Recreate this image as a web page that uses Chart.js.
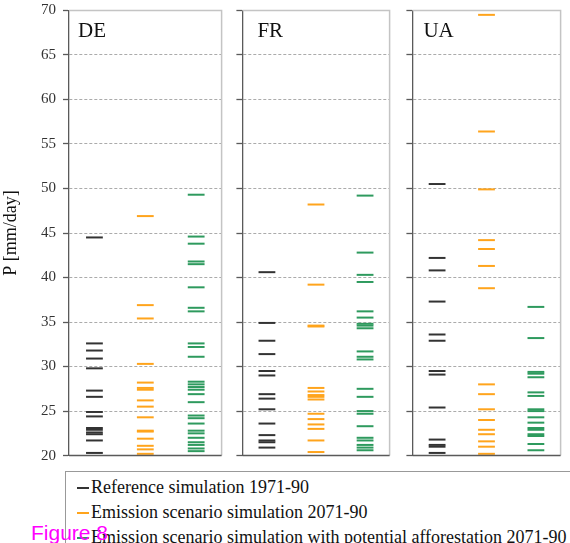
<!DOCTYPE html>
<html>
<head>
<meta charset="utf-8">
<script src="https://cdn.jsdelivr.net/npm/chart.js@4.4.1/dist/chart.umd.min.js"></script>
<style>
  html, body { margin: 0; padding: 0; background: #fff; }
  body { width: 570px; height: 543px; position: relative; overflow: hidden; }
  .panel { position: absolute; top: 0; height: 466px; }
  #legend {
    position: absolute; left: 65px; top: 471px; width: 540px; height: 90px;
    border: 1.5px solid #999; box-sizing: border-box;
    font-family: "Liberation Serif", "DejaVu Serif", serif; font-size: 18px; color: #111;
  }
  .row { position: absolute; left: 11px; height: 20px; line-height: 20px; white-space: nowrap; }
  .mark { display: inline-block; width: 12px; height: 2px; vertical-align: middle; margin-right: 2px; position: relative; top: -1px; }
  #fig {
    position: absolute; left: 31px; top: 521px;
    font-family: "Liberation Sans", Arial, sans-serif; font-size: 21px; color: #ff00ff;
  }
</style>
</head>
<body>
<canvas id="cDE" class="panel" style="left:0px;width:232px"></canvas>
<canvas id="cFR" class="panel" style="left:232px;width:168px"></canvas>
<canvas id="cUA" class="panel" style="left:402px;width:169px"></canvas>

<div id="legend">
  <div class="row" style="top:5px"><span class="mark" style="background:#333"></span>Reference simulation 1971-90</div>
  <div class="row" style="top:30px"><span class="mark" style="background:#ffa41c"></span>Emission scenario simulation 2071-90</div>
  <div class="row" style="top:55px"><span class="mark" style="background:#2e9a5e"></span>Emission scenario simulation with potential afforestation 2071-90</div>
</div>
<div id="fig">Figure 8</div>

<script>
// ---- data (P in mm/day, one value per dash) ----
const seriesNames = ["Reference simulation 1971-90", "Emission scenario simulation 2071-90",
    "Emission scenario simulation with potential afforestation 2071-90"];
const seriesColors = ["#333333", "#ffa41c", "#2e9a5e"];
const yTicks = [20, 25, 30, 35, 40, 45, 50, 55, 60, 65, 70];

const deRef = [44.5, 32.6, 31.8, 30.9, 29.8, 27.3, 26.6, 24.9, 24.4, 23.1, 22.9, 22.6, 22.4, 21.7, 20.3];
const deEmis = [46.9, 36.9, 35.4, 30.3, 28.2, 27.6, 27.4, 26.2, 25.5, 24.3, 22.8, 22.7, 21.9, 21.1, 20.7, 20.2];
const deAffor = [49.3, 44.6, 43.8, 41.8, 41.5, 38.9, 36.6, 36.2, 32.6, 32.2, 31.1, 28.3, 28.0, 27.7, 27.4,
    26.9, 26.0, 24.5, 24.2, 23.6, 22.8, 22.5, 22.0, 21.5, 21.2, 20.8, 20.5];

const frRef = [40.6, 34.9, 32.9, 31.4, 29.5, 29.0, 26.9, 26.4, 25.2, 23.6, 22.3, 21.7, 21.5, 20.9];
const frEmis = [48.2, 39.2, 34.6, 34.5, 27.6, 27.2, 26.8, 26.6, 26.3, 24.7, 24.1, 23.5, 23.0, 21.7, 20.4];
const frAffor = [49.2, 42.8, 40.3, 39.5, 36.2, 35.5, 34.8, 34.6, 34.3, 31.7, 31.1, 30.8, 27.5, 26.6,
    25.0, 24.7, 23.3, 22.0, 21.7, 21.2, 20.9, 20.6];

const uaRef = [50.5, 42.2, 40.8, 37.3, 33.6, 32.9, 29.5, 29.1, 25.4, 21.8, 21.2, 21.0, 20.3];
const uaEmis = [69.5, 56.4, 49.9, 44.2, 43.2, 41.3, 38.8, 28.0, 26.9, 25.2, 24.0, 22.9, 22.4, 21.6, 21.0, 20.2];
const uaAffor = [36.7, 33.2, 29.4, 29.2, 28.8, 27.1, 26.7, 25.2, 25.0, 24.3, 23.7, 23.1, 22.9, 22.4, 22.2, 21.3, 20.6];

const serif = "'Liberation Serif', 'DejaVu Serif', serif";

// frame: light grey top/right, dark bottom, plus the panel name
const framePlugin = {
    id: "frame",
    afterDatasetsDraw(chart, args, opts) {
        const { ctx, chartArea: a } = chart;
        ctx.save();
        ctx.lineWidth = 1.5;
        ctx.strokeStyle = "#c4c4c4";
        ctx.beginPath();
        ctx.moveTo(a.left, a.top);
        ctx.lineTo(a.right, a.top);
        ctx.lineTo(a.right, a.bottom);
        ctx.stroke();
        ctx.strokeStyle = "#5a5a5a";
        ctx.beginPath();
        ctx.moveTo(a.left, a.bottom);
        ctx.lineTo(a.right, a.bottom);
        ctx.stroke();
        ctx.fillStyle = "#111";
        ctx.font = "21px " + serif;
        ctx.textBaseline = "alphabetic";
        ctx.fillText(opts.label, a.left + opts.dx, a.top + 27);
        ctx.restore();
    }
};

function makePanel(id, label, dx, ref, emis, affor, first) {
    const lists = [ref, emis, affor];
    const datasets = lists.map((vals, i) => ({
        label: seriesNames[i],
        data: vals.map(v => ({ x: i + 1, y: v })),
        pointStyle: "line",
        radius: 8.4,
        hoverRadius: 8.4,
        borderWidth: 2,
        borderColor: seriesColors[i],
        backgroundColor: seriesColors[i],
        clip: false
    }));

    new Chart(document.getElementById(id), {
        type: "scatter",
        data: { datasets },
        plugins: [framePlugin],
        options: {
            responsive: false,
            maintainAspectRatio: false,
            animation: false,
            layout: { padding: { top: 7, right: 3, bottom: 5, left: 0 } },
            plugins: {
                legend: { display: false },
                tooltip: { enabled: false },
                frame: { label, dx }
            },
            scales: {
                x: { type: "linear", min: 0.5, max: 3.5, display: false },
                y: {
                    min: 20, max: 70,
                    afterBuildTicks: s => { s.ticks = yTicks.map(v => ({ value: v })); },
                    afterFit: s => { s.width = first ? 69 : 9; s.paddingTop = 0; s.paddingBottom = 0; },
                    border: { display: true, color: "#5a5a5a", width: 1.3, dash: [3, 2] },
                    grid: {
                        color: c => (c.tick && (c.tick.value === 20 || c.tick.value === 70)) ? "rgba(0,0,0,0)" : "#ababab",
                        lineWidth: 1,
                        tickLength: 6,
                        tickColor: "#5a5a5a",
                        tickWidth: 1.3,
                        tickBorderDash: []
                    },
                    ticks: {
                        display: first,
                        padding: 7,
                        color: "#333",
                        font: { family: serif, size: 15 }
                    },
                    title: {
                        display: first,
                        text: "P [mm/day]",
                        color: "#111",
                        padding: 0,
                        font: { family: serif, size: 18 }
                    }
                }
            }
        }
    });
}

// canvas sizes
[["cDE", 232], ["cFR", 168], ["cUA", 169]].forEach(([id, w]) => {
    const c = document.getElementById(id);
    c.width = w; c.height = 466;
});

makePanel("cDE", "DE", 9, deRef, deEmis, deAffor, true);
makePanel("cFR", "FR", 15, frRef, frEmis, frAffor, false);
makePanel("cUA", "UA", 11, uaRef, uaEmis, uaAffor, false);
</script>
</body>
</html>
